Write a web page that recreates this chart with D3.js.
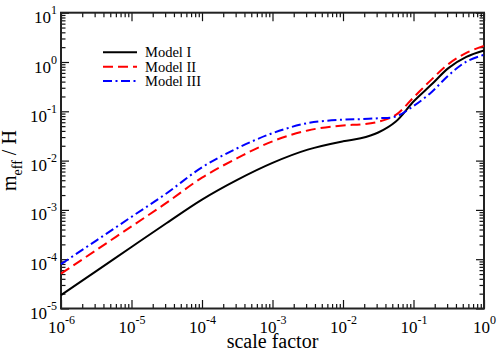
<!DOCTYPE html>
<html>
<head>
<meta charset="utf-8">
<script src="https://cdn.jsdelivr.net/npm/d3@7"></script>
<style>
  body { margin: 0; background: #fff; }
  svg { display: block; }
  text { font-family: "Liberation Serif", "Times New Roman", serif; fill: #000; }
</style>
</head>
<body>
<svg id="chart" width="498" height="353"></svg>
<script>
// values (log-log axes)
var scaleFactor = [1e-6, 3.16e-6, 1e-5, 3.16e-5, 1e-4, 3.16e-4, 1e-3, 3.16e-3, 1e-2,
                   1.78e-2, 3.16e-2, 5.62e-2, 0.1, 0.178, 0.316, 0.562, 1];
var modelI   = [1.87e-5, 5.74e-5, 1.77e-4, 5.43e-4, 1.62e-3, 4.07e-3, 9.0e-3, 1.67e-2, 2.46e-2,
                2.83e-2, 3.72e-2, 6.21e-2, 0.158, 0.344, 0.76, 1.27, 1.71];
var modelII  = [5.08e-5, 1.53e-4, 4.63e-4, 1.40e-3, 4.51e-3, 1.12e-2, 2.46e-2, 4.09e-2, 5.18e-2,
                5.42e-2, 6.15e-2, 8.43e-2, 0.191, 0.434, 0.918, 1.53, 2.13];
var modelIII = [7.92e-5, 2.39e-4, 7.23e-4, 2.18e-3, 7.31e-3, 1.78e-2, 3.60e-2, 5.77e-2, 6.76e-2,
                6.92e-2, 7.24e-2, 7.85e-2, 0.128, 0.241, 0.541, 1.02, 1.40];
var seriesNames = ["Model I", "Model II", "Model III"];
var xTicks = [1e-6, 1e-5, 1e-4, 1e-3, 1e-2, 1e-1, 1];
var xTickExp = ["-6", "-5", "-4", "-3", "-2", "-1", "0"];
var yTicks = [1e-5, 1e-4, 1e-3, 1e-2, 1e-1, 1, 10];
var yTickExp = ["-5", "-4", "-3", "-2", "-1", "0", "1"];

var plotLeft = 61, plotRight = 484, plotTop = 12.7, plotBottom = 308.5;
var svg = d3.select('#chart');

var x = d3.scaleLog().domain([1e-6, 1]).range([plotLeft, plotRight]);
var y = d3.scaleLog().domain([1e-5, 10]).range([plotBottom, plotTop]);

var xMinor = x.ticks().filter(function(d){ return xTicks.indexOf(d) < 0; });
var yMinor = y.ticks().filter(function(d){ return yTicks.indexOf(d) < 0; });

function tickAxis(axis, vals, size, tx, ty){
    var g = svg.append('g').attr('transform', 'translate(' + tx + ',' + ty + ')')
        .call(axis.tickValues(vals).tickSizeInner(size).tickSizeOuter(0).tickFormat(''));
    g.select('.domain').remove();
    g.selectAll('line').attr('stroke', '#111').attr('stroke-width', 1.2);
    return g;
}
// ticks on all four sides, pointing in
tickAxis(d3.axisBottom(x), xMinor, -4.5, 0, plotBottom);
tickAxis(d3.axisBottom(x), xTicks, -8.5, 0, plotBottom);
tickAxis(d3.axisTop(x), xMinor, -4.5, 0, plotTop);
tickAxis(d3.axisTop(x), xTicks, -8.5, 0, plotTop);
tickAxis(d3.axisLeft(y), yMinor, -4.5, plotLeft, 0);
tickAxis(d3.axisLeft(y), yTicks, -8, plotLeft, 0);
tickAxis(d3.axisRight(y), yMinor, -4.5, plotRight, 0);
tickAxis(d3.axisRight(y), yTicks, -8, plotRight, 0);

svg.append('rect')
    .attr('x', plotLeft).attr('y', plotTop)
    .attr('width', plotRight - plotLeft).attr('height', plotBottom - plotTop)
    .attr('fill', 'none').attr('stroke', '#222').attr('stroke-width', 2);

// tick labels as 10^n
xTicks.forEach(function(v, i){
    var t = svg.append('text').attr('x', x(v) + 0.5).attr('y', plotBottom + 24.5)
        .attr('text-anchor', 'middle').style('font-size', '17px');
    t.append('tspan').text('10');
    t.append('tspan').attr('dy', -9).style('font-size', '12px').text(xTickExp[i]);
});
yTicks.forEach(function(v, i){
    var t = svg.append('text').attr('x', plotLeft - 4).attr('y', y(v) + 10.5)
        .attr('text-anchor', 'end').style('font-size', '17px');
    t.append('tspan').text('10');
    t.append('tspan').attr('dy', -9).style('font-size', '12px').text(yTickExp[i]);
});

// axis titles
svg.append('text').attr('x', (plotLeft + plotRight) / 2).attr('y', 348)
    .attr('text-anchor', 'middle').style('font-size', '20px').text('scale factor');
var yt = svg.append('text').attr('transform', 'translate(16,' + ((plotTop + plotBottom) / 2) + ') rotate(-90)')
    .attr('text-anchor', 'middle').style('font-size', '20px');
yt.append('tspan').text('m');
yt.append('tspan').attr('dy', 6).style('font-size', '14px').text('eff');
yt.append('tspan').attr('dy', -6).text(' / H');

// curves
var series = [modelI, modelII, modelIII];
var colors = ['#000000', '#ff0000', '#0000ff'];
var dashes = [null, '10,5', '9,3.5,2,3.5'];

var line = d3.line()
    .x(function(d){ return x(d[0]); })
    .y(function(d){ return y(d[1]); })
    .curve(d3.curveCatmullRom.alpha(0.5));

svg.append('g').selectAll('path')
    .data(series)
    .enter().append('path')
    .attr('d', function(s){ return line(scaleFactor.map(function(a, i){ return [a, s[i]]; })); })
    .attr('fill', 'none')
    .attr('stroke', function(d, i){ return colors[i]; })
    .attr('stroke-width', 2)
    .attr('stroke-dasharray', function(d, i){ return dashes[i]; });

// legend
var leg = svg.append('g').selectAll('g')
    .data(seriesNames)
    .enter().append('g')
    .attr('transform', function(d, i){ return 'translate(0,' + (52.3 + i * 14.4) + ')'; });
leg.append('line')
    .attr('x1', 103).attr('x2', 137).attr('y1', 0).attr('y2', 0)
    .attr('stroke', function(d, i){ return colors[i]; })
    .attr('stroke-width', 2)
    .attr('stroke-dasharray', function(d, i){ return dashes[i]; });
leg.append('text')
    .attr('x', 145).attr('y', 5)
    .style('font-size', '14.5px')
    .text(function(d){ return d; });
</script>
</body>
</html>
